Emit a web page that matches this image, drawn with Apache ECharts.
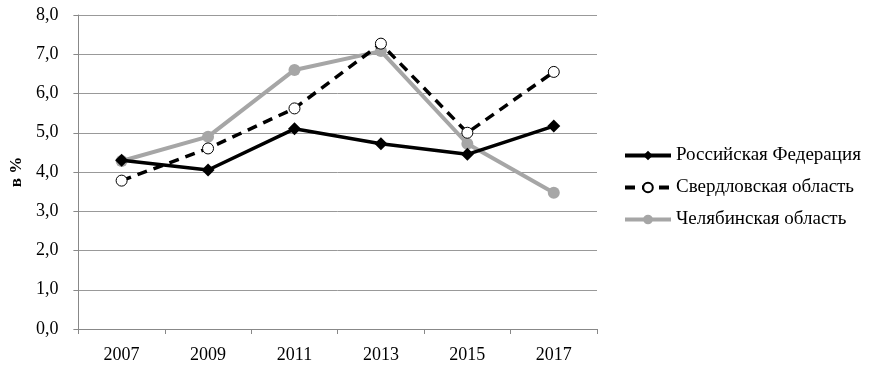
<!DOCTYPE html>
<html>
<head>
<meta charset="utf-8">
<script src="https://cdn.jsdelivr.net/npm/echarts@6/dist/echarts.min.js"></script>
<style>
  html, body { margin: 0; padding: 0; background: #fff; }
  #chart { width: 880px; height: 368px; }
</style>
</head>
<body>
<div id="chart"></div>
<script>
// доля (в %), по годам
const years = ["2007", "2009", "2011", "2013", "2015", "2017"];
const russia = [4.3, 4.05, 5.1, 4.72, 4.45, 5.17];
const sverdlovsk = [3.78, 4.6, 5.62, 7.27, 5.0, 6.55];
const chelyabinsk = [4.28, 4.9, 6.6, 7.08, 4.72, 3.47];

const serif = "'Liberation Serif', 'DejaVu Serif', serif";

const chart = echarts.init(document.getElementById("chart"));

chart.setOption({
    animation: false,
    backgroundColor: "#fff",
    grid: { left: 78, right: 283, top: 15, bottom: 39 },
    legend: {
        orient: "vertical",
        left: 618,
        top: 141,
        itemWidth: 46,
        itemHeight: 12,
        itemGap: 13,
        textStyle: { fontFamily: serif, fontSize: 19, color: "#000" },
        data: [
            { name: "Российская Федерация", lineStyle: { width: 4 } },
            { name: "Свердловская область", lineStyle: { width: 4 } },
            { name: "Челябинская область", lineStyle: { width: 4 } }
        ]
    },
    xAxis: {
        type: "category",
        data: years,
        boundaryGap: true,
        axisLine: { lineStyle: { color: "#888", width: 1 } },
        axisTick: { show: true, alignWithLabel: false, length: 5, lineStyle: { color: "#888" } },
        axisLabel: { fontFamily: serif, fontSize: 18, color: "#000", margin: 17 }
    },
    yAxis: {
        type: "value",
        min: 0,
        max: 8,
        interval: 1,
        name: "в %",
        nameLocation: "middle",
        nameGap: 46,
        nameRotate: 90,
        nameTextStyle: { fontFamily: serif, fontSize: 17, fontWeight: "bold", color: "#000" },
        axisLine: { show: true, lineStyle: { color: "#888", width: 1 } },
        axisTick: { show: true, length: 5, lineStyle: { color: "#888" } },
        axisLabel: {
            fontFamily: serif, fontSize: 18, color: "#000", margin: 20,
            formatter: v => v.toFixed(1).replace(".", ",")
        },
        splitLine: { lineStyle: { color: "#999", width: 1 } }
    },
    series: [
        {
            name: "Российская Федерация",
            type: "line",
            data: russia,
            symbol: "diamond",
            symbolSize: 13,
            itemStyle: { color: "#000" },
            lineStyle: { color: "#000", width: 3.5 },
            z: 3
        },
        {
            name: "Свердловская область",
            type: "line",
            data: sverdlovsk,
            symbol: "circle",
            symbolSize: 11,
            showAllSymbol: true,
            itemStyle: { color: "#fff", borderColor: "#000", borderWidth: 1 },
            lineStyle: { color: "#000", width: 3.5, type: [10, 7] },
            z: 4
        },
        {
            name: "Челябинская область",
            type: "line",
            data: chelyabinsk,
            symbol: "circle",
            symbolSize: 12,
            itemStyle: { color: "#a6a6a6" },
            lineStyle: { color: "#a6a6a6", width: 4 },
            z: 2
        }
    ]
});
</script>
</body>
</html>
